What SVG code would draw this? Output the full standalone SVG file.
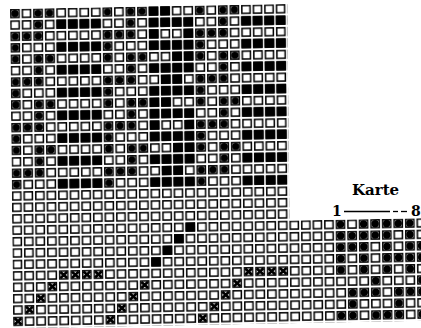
<svg xmlns="http://www.w3.org/2000/svg" width="421" height="328" viewBox="0 0 421 328">
<style>
.lbl{font-family:"DejaVu Serif","Liberation Serif",serif;font-weight:bold;fill:#000}
.rule{stroke:#000;stroke-width:1.3}
</style>
<defs>
<pattern id="pe" width="11.55" height="11.4" patternUnits="userSpaceOnUse"><rect x="0.8" y="0.8" width="8.2" height="7.8" fill="#fff" stroke="#000" stroke-width="1.5"/></pattern>
<pattern id="pb" width="92.4" height="22.8" patternUnits="userSpaceOnUse"><g fill="#000"><rect x="46.25" y="11.45" width="9.6" height="9.2"/><rect x="57.8" y="11.45" width="9.6" height="9.2"/><rect x="69.35" y="11.45" width="9.6" height="9.2"/><rect x="80.9" y="11.45" width="9.6" height="9.2"/></g></pattern>
<pattern id="pd" width="92.4" height="45.6" patternUnits="userSpaceOnUse"><g fill="#000"><circle cx="4.9" cy="4.7" r="3.7"/><circle cx="28" cy="4.7" r="3.7"/><circle cx="39.55" cy="4.7" r="3.7"/><circle cx="28" cy="16.1" r="3.7"/><circle cx="4.9" cy="27.5" r="3.7"/><circle cx="16.45" cy="27.5" r="3.7"/><circle cx="28" cy="27.5" r="3.7"/><circle cx="4.9" cy="38.9" r="3.7"/></g></pattern>
<rect id="b" x="0.05" y="0.05" width="9.6" height="9.2" fill="#000"/>
<circle id="d" cx="4.9" cy="4.7" r="3.7" fill="#000"/>
<path id="x" d="M1.6,1.6 L8.2,7.8 M8.2,1.6 L1.6,7.8" stroke="#000" stroke-width="2.7" fill="none"/>
</defs>
<rect width="421" height="328" fill="#fff"/>
<g id="grid" transform="matrix(1,-0.018,0.01,1,10,9)">
<g id="empty-cells">
<rect x="0" y="0" width="277.2" height="216.6" fill="url(#pe)"/>
<rect x="0" y="216.6" width="415.8" height="102.6" fill="url(#pe)"/>
</g>
<g id="design">
<rect x="0" y="0" width="277.2" height="182.4" fill="url(#pb)"/>
<rect x="0" y="0" width="277.2" height="182.4" fill="url(#pd)"/>
<use href="#b" x="138.6" y="0"/><use href="#b" x="150.15" y="0"/>
<use href="#b" x="138.6" y="22.8"/><use href="#b" x="173.25" y="22.8"/>
<use href="#b" x="161.7" y="45.6"/><use href="#b" x="173.25" y="45.6"/>
<use href="#b" x="150.15" y="68.4"/><use href="#b" x="161.7" y="68.4"/>
<use href="#b" x="138.6" y="91.2"/><use href="#b" x="150.15" y="91.2"/>
<use href="#b" x="138.6" y="114"/><use href="#b" x="173.25" y="114"/>
<use href="#b" x="161.7" y="136.8"/><use href="#b" x="173.25" y="136.8"/>
<use href="#b" x="150.15" y="159.6"/><use href="#b" x="161.7" y="159.6"/>
</g>
<g id="threading">
<use href="#b" x="173.25" y="216.6"/>
<use href="#b" x="161.7" y="228"/>
<use href="#b" x="150.15" y="239.4"/>
<use href="#b" x="138.6" y="250.8"/>
<use href="#x" x="46.2" y="262.2"/><use href="#x" x="57.75" y="262.2"/><use href="#x" x="69.3" y="262.2"/><use href="#x" x="80.85" y="262.2"/>
<use href="#x" x="231" y="262.2"/><use href="#x" x="242.55" y="262.2"/><use href="#x" x="254.1" y="262.2"/><use href="#x" x="265.65" y="262.2"/>
<use href="#x" x="34.65" y="273.6"/><use href="#x" x="127.05" y="273.6"/><use href="#x" x="219.45" y="273.6"/>
<use href="#x" x="23.1" y="285"/><use href="#x" x="115.5" y="285"/><use href="#x" x="207.9" y="285"/>
<use href="#x" x="11.55" y="296.4"/><use href="#x" x="103.95" y="296.4"/><use href="#x" x="196.35" y="296.4"/>
<use href="#x" x="0" y="307.8"/><use href="#x" x="92.4" y="307.8"/><use href="#x" x="184.8" y="307.8"/>
</g>
<g id="card">
<use href="#d" x="323.4" y="216.6"/><use href="#d" x="346.5" y="216.6"/><use href="#d" x="358.05" y="216.6"/><use href="#d" x="369.6" y="216.6"/><use href="#d" x="381.15" y="216.6"/><use href="#d" x="392.7" y="216.6"/>
<use href="#d" x="323.4" y="228"/><use href="#d" x="334.95" y="228"/><use href="#d" x="346.5" y="228"/><use href="#d" x="358.05" y="228"/><use href="#d" x="369.6" y="228"/><use href="#d" x="392.7" y="228"/>
<use href="#d" x="323.4" y="239.4"/><use href="#d" x="334.95" y="239.4"/><use href="#d" x="346.5" y="239.4"/><use href="#d" x="369.6" y="239.4"/><use href="#d" x="392.7" y="239.4"/><use href="#d" x="404.25" y="239.4"/>
<use href="#d" x="323.4" y="250.8"/><use href="#d" x="346.5" y="250.8"/><use href="#d" x="369.6" y="250.8"/><use href="#d" x="381.15" y="250.8"/><use href="#d" x="392.7" y="250.8"/><use href="#d" x="404.25" y="250.8"/>
<use href="#d" x="323.4" y="262.2"/><use href="#d" x="346.5" y="262.2"/><use href="#d" x="369.6" y="262.2"/><use href="#d" x="392.7" y="262.2"/>
<use href="#d" x="358.05" y="273.6"/><use href="#d" x="404.25" y="273.6"/>
<use href="#d" x="334.95" y="285"/><use href="#d" x="346.5" y="285"/><use href="#d" x="358.05" y="285"/><use href="#d" x="381.15" y="285"/><use href="#d" x="392.7" y="285"/><use href="#d" x="404.25" y="285"/>
<use href="#d" x="334.95" y="296.4"/><use href="#d" x="381.15" y="296.4"/>
<use href="#d" x="323.4" y="307.8"/><use href="#d" x="334.95" y="307.8"/><use href="#d" x="358.05" y="307.8"/><use href="#d" x="369.6" y="307.8"/><use href="#d" x="381.15" y="307.8"/><use href="#d" x="404.25" y="307.8"/>
</g>
</g>
<g id="labels">
<text class="lbl" x="352" y="195" font-size="15">Karte</text>
<text class="lbl" x="332" y="216" font-size="14">1</text>
<line class="rule" x1="344" y1="211.5" x2="390" y2="211.5"/>
<line class="rule" x1="393" y1="211.5" x2="398" y2="211.5"/>
<line class="rule" x1="401" y1="211.5" x2="407" y2="211.5"/>
<text class="lbl" x="411" y="216" font-size="14">8</text>
</g>
</svg>
